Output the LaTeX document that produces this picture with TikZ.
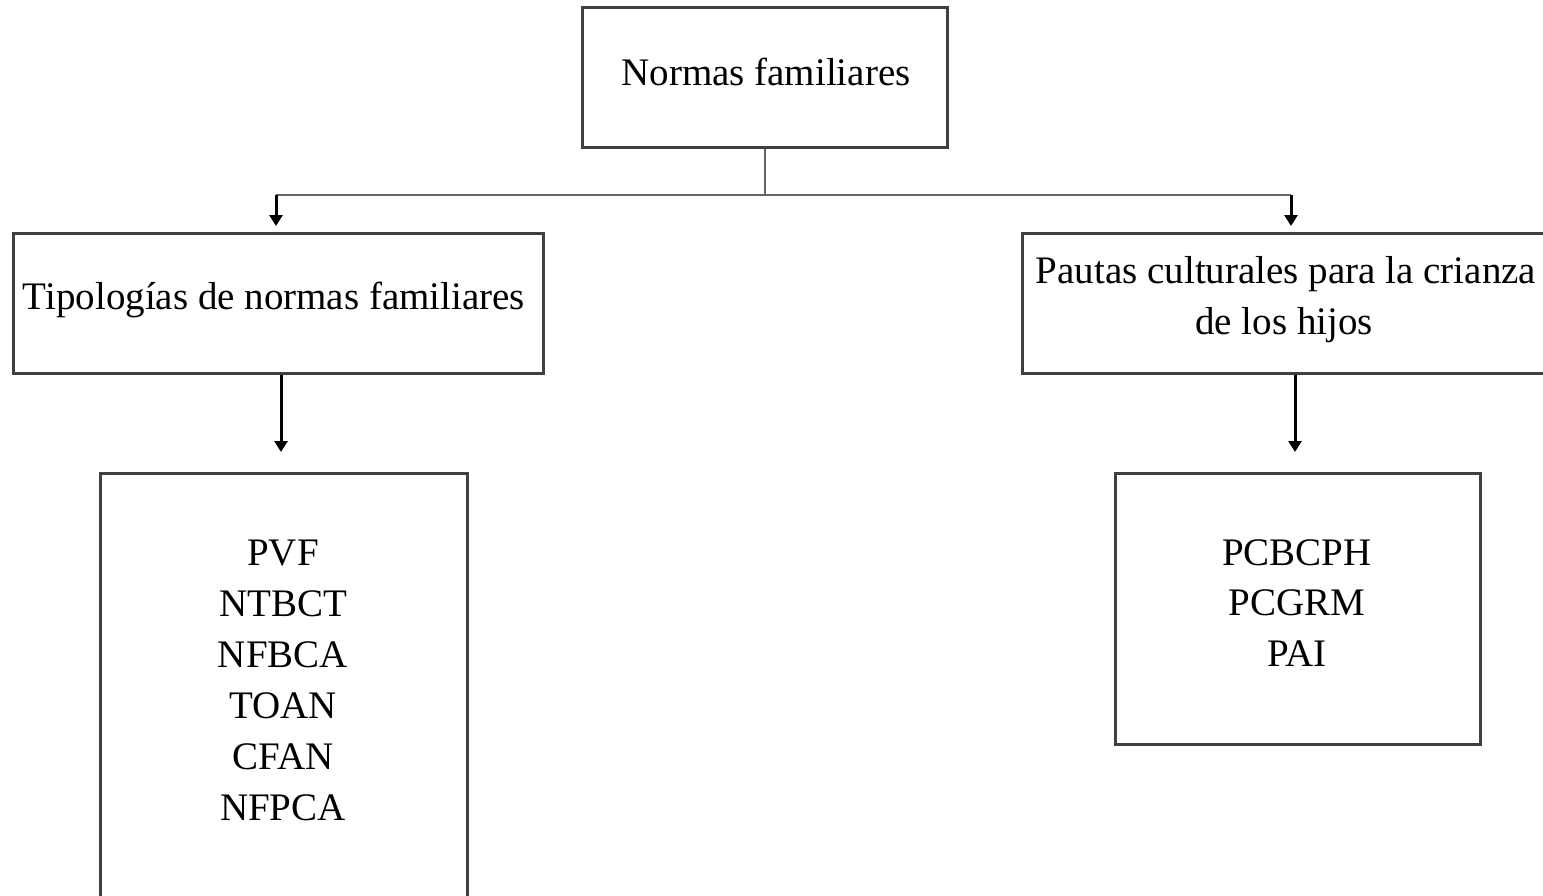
\documentclass[tikz,border=0pt]{standalone}
\usepackage{fontspec}
\setmainfont{Liberation Serif}
\usetikzlibrary{arrows.meta}
\begin{document}
\begin{tikzpicture}[x=0.5pt,y=-0.5pt,
  box/.style={draw=black!75, line width=1.5pt, inner sep=0pt},
  txt/.style={font=\fontsize{19.5}{25.5}\selectfont, align=center, inner sep=0pt, anchor=base},
  conn/.style={draw=black!60, line width=1.1pt},
  arr/.style={draw=black, line width=1.5pt, -{Triangle[length=5.5pt,width=6.5pt]}}]
\useasboundingbox (0,0) rectangle (1543,895);
% boxes
\node[box, minimum width=182.5pt, minimum height=70pt] (top) at (764.5,77) {};
\node[box, minimum width=265pt, minimum height=70pt] (left) at (278,303) {};
\node[box, minimum width=270pt, minimum height=70pt] (right) at (1564,303) [anchor=east] {};
\node[box, minimum width=183.5pt, minimum height=220pt] (bl) at (283.5,693) {};
\node[box, minimum width=182.5pt, minimum height=135.5pt] (br) at (1297.5,608.5) {};
% texts
\node[txt] (ttop) at (766,85) {Normas familiares};
\node[txt] (tleft) at (274,309) {Tipologías de normas familiares};
\node[txt] (tright1) at (1286,283) {Pautas culturales para la crianza};
\node[txt] (tright2) at (1284,334) {de los hijos};
\node[txt] (tbl1) at (283,565) {PVF};
\node[txt] (tbl2) at (283,616) {NTBCT};
\node[txt] (tbl3) at (283,667) {NFBCA};
\node[txt] (tbl4) at (283,718) {TOAN};
\node[txt] (tbl5) at (283,769) {CFAN};
\node[txt] (tbl6) at (283,820) {NFPCA};
\node[txt] (tbr1) at (1297,565) {PCBCPH};
\node[txt] (tbr2) at (1297,615) {PCGRM};
\node[txt] (tbr3) at (1297,666) {PAI};
% connectors
\coordinate (j) at (765,195);
\coordinate (jl) at (276,195);
\coordinate (jr) at (1291,195);
\draw[conn] (765,0 |- top.south) -- (j);
\draw[conn] (jl) -- (jr);
\draw[arr] (jl) -- (276,226);
\draw[arr] (jr) -- (1291,226);
\draw[arr] (281,0 |- left.south) -- (281,452);
\draw[arr] (1295,0 |- right.south) -- (1295,452);
\end{tikzpicture}
\end{document}
